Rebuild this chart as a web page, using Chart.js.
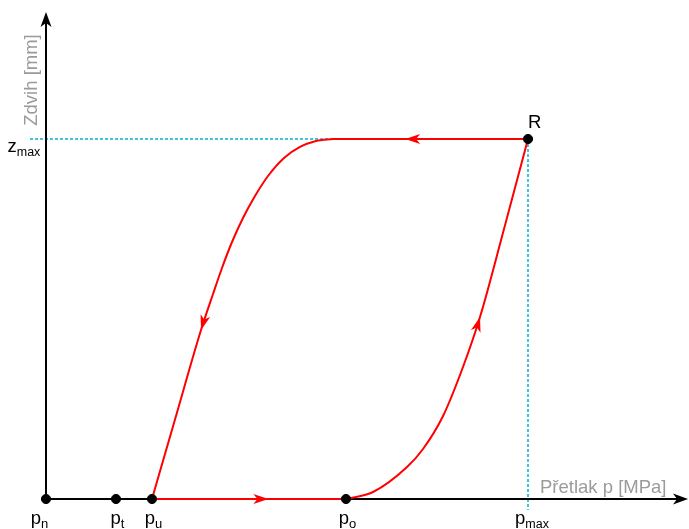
<!DOCTYPE html>
<html>
<head>
<meta charset="utf-8">
<script src="https://cdn.jsdelivr.net/npm/chart.js@4"></script>
<style>
  html, body { margin: 0; padding: 0; background: #fff; }
  #wrap { width: 689px; height: 529px; }
</style>
</head>
<body>
<div id="wrap"><canvas id="c" width="689" height="529"></canvas></div>
<script>
// ---- data (schematic units: p_max = 10, z_max = 10) ----
const pointNames = ['n', 't', 'u', 'o'];          // subscripts of p on the pressure axis
const pointX     = [0, 1.452, 2.199, 6.224];      // p_n, p_t, p_u, p_o
const pMax = 10;
const zMax = 10;
const closeX = 5.954;                              // where the closing curve leaves z_max

// opening curve p_o -> R
const openX = [6.224, 6.784, 7.490, 7.822, 8.237, 8.651, 9.004, 9.502, 10];
const openY = [0, 0.194, 0.889, 1.389, 2.306, 3.667, 5.056, 7.5, 10];
// closing curve (from z_max plateau down to p_u)
const closeCurveX = [5.954, 5.602, 5.270, 4.938, 4.606, 4.336, 4.087, 3.859, 3.651, 3.465, 3.216, 2.697, 2.199];
const closeCurveY = [10, 9.944, 9.778, 9.472, 8.972, 8.417, 7.806, 7.139, 6.417, 5.694, 4.694, 2.306, 0];

// axis extents
const xAxisEnd = 13.32, yAxisEnd = 13.53;
const xView = [-0.9544, 13.340], yView = [-0.8333, 13.861];
const zLineStart = -0.332, pLineEnd = -0.306;

const toPts = (xs, ys) => xs.map((x, i) => ({x, y: ys[i]}));

const RED = '#ff0000', CYAN = '#3fc6dc', GRAY = '#9b9b9b';

const datasets = [
  { label: 'dots', data: [...pointX.map(x => ({x, y: 0})), {x: pMax, y: zMax}],
    showLine: false, pointRadius: 4.6, backgroundColor: '#000', borderColor: '#000', order: 0 },
  { label: 'open', data: toPts(openX, openY), showLine: true, cubicInterpolationMode: 'monotone',
    borderColor: RED, borderWidth: 2, pointRadius: 0, order: 1, arrowIndex: 6 },
  { label: 'top', data: [{x: pMax, y: zMax}, {x: closeX, y: zMax}], showLine: true,
    borderColor: RED, borderWidth: 2, pointRadius: 0, order: 1, arrowFrac: 0.63 },
  { label: 'close', data: toPts(closeCurveX, closeCurveY), showLine: true, cubicInterpolationMode: 'monotone',
    borderColor: RED, borderWidth: 2, pointRadius: 0, order: 1, arrowIndex: 10 },
  { label: 'bottom', data: [{x: pointX[2], y: 0}, {x: pointX[3], y: 0}], showLine: true,
    borderColor: RED, borderWidth: 2, pointRadius: 0, order: 1, arrowFrac: 0.6 },
  { label: 'xaxis', data: [{x: 0, y: 0}, {x: xAxisEnd - 0.2, y: 0}], showLine: true,
    borderColor: '#000', borderWidth: 2, pointRadius: 0, order: 2, axisArrow: true },
  { label: 'yaxis', data: [{x: 0, y: 0}, {x: 0, y: yAxisEnd - 0.3}], showLine: true,
    borderColor: '#000', borderWidth: 2, pointRadius: 0, order: 2, axisArrow: true },
  { label: 'zmaxline', data: [{x: zLineStart, y: zMax}, {x: pMax, y: zMax}], showLine: true,
    borderColor: CYAN, borderWidth: 2, borderDash: [3, 2], pointRadius: 0, order: 3 },
  { label: 'pmaxline', data: [{x: pMax, y: zMax}, {x: pMax, y: pLineEnd}], showLine: true,
    borderColor: CYAN, borderWidth: 2, borderDash: [3, 2], pointRadius: 0, order: 3 }
];

function arrowHead(ctx, x, y, ang, len, half, notch, color) {
  ctx.save();
  ctx.translate(x, y);
  ctx.rotate(ang);
  ctx.beginPath();
  ctx.moveTo(0, 0);
  ctx.lineTo(-len, -half);
  ctx.lineTo(-len + notch, 0);
  ctx.lineTo(-len, half);
  ctx.closePath();
  ctx.fillStyle = color;
  ctx.fill();
  ctx.restore();
}

const FONT = '"Liberation Sans", Arial, sans-serif';

const decor = {
  id: 'decor',
  afterDatasetsDraw(chart) {
    const ctx = chart.ctx;
    const xs = chart.scales.x, ys = chart.scales.y;
    chart.data.datasets.forEach((ds, di) => {
      const pts = chart.getDatasetMeta(di).data;
      if (ds.arrowIndex !== undefined) {
        const i = ds.arrowIndex, a = pts[i - 1], b = pts[i + 1], t = pts[i];
        arrowHead(ctx, t.x, t.y, Math.atan2(b.y - a.y, b.x - a.x), 15, 5, 4, RED);
      }
      if (ds.arrowFrac !== undefined) {
        const a = pts[0], b = pts[pts.length - 1], f = ds.arrowFrac;
        arrowHead(ctx, a.x + (b.x - a.x) * f, a.y + (b.y - a.y) * f,
          Math.atan2(b.y - a.y, b.x - a.x), 15, 5, 4, RED);
      }
      if (ds.axisArrow) {
        const a = pts[0], b = pts[pts.length - 1];
        const ang = Math.atan2(b.y - a.y, b.x - a.x);
        const tipX = ds.label === 'xaxis' ? xs.getPixelForValue(xAxisEnd) : b.x;
        const tipY = ds.label === 'yaxis' ? ys.getPixelForValue(yAxisEnd) : b.y;
        arrowHead(ctx, tipX, tipY, ang, 15, 5.5, 4, '#000');
      }
    });

    // labels with subscripts
    ctx.save();
    ctx.fillStyle = '#000';
    ctx.textBaseline = 'alphabetic';
    const sub = (main, s, left, base, size, subSize, subDrop) => {
      ctx.font = size + 'px ' + FONT;
      ctx.textAlign = 'left';
      ctx.fillText(main, left, base);
      const w = ctx.measureText(main).width;
      ctx.font = subSize + 'px ' + FONT;
      ctx.fillText(s, left + w, base + subDrop);
    };
    const subW = (main, s, size, subSize) => {
      ctx.font = size + 'px ' + FONT;
      const w = ctx.measureText(main).width;
      ctx.font = subSize + 'px ' + FONT;
      return w + ctx.measureText(s).width;
    };
    const baseY = ys.getPixelForValue(0) + 25;
    pointNames.forEach((n, i) => {
      const px = xs.getPixelForValue(pointX[i]);
      const w = subW('p', n, 18.5, 13);
      const cx = i === 0 ? px - 6.5 : px + 1.5;
      sub('p', n, cx - w / 2, baseY, 18.5, 13, 4);
    });
    {
      const px = xs.getPixelForValue(pMax);
      const w = subW('p', 'max', 18.5, 12.5);
      sub('p', 'max', px + 4 - w / 2, baseY, 18.5, 12.5, 4);
    }
    {
      const py = ys.getPixelForValue(zMax);
      sub('z', 'max', 7.5, py + 13, 18.5, 12.5, 4);
    }
    // R label
    ctx.font = '18.5px ' + FONT;
    ctx.textAlign = 'left';
    ctx.fillText('R', xs.getPixelForValue(pMax), ys.getPixelForValue(zMax) - 11);

    // axis titles
    ctx.fillStyle = GRAY;
    ctx.font = '18.5px ' + FONT;
    ctx.textAlign = 'left';
    ctx.fillText('Přetlak p [MPa]', 540, ys.getPixelForValue(0) - 6);
    ctx.save();
    ctx.translate(36.5, 80);
    ctx.rotate(-Math.PI / 2);
    ctx.textAlign = 'center';
    ctx.fillText('Zdvih [mm]', 0, 0);
    ctx.restore();
    ctx.restore();
  }
};

new Chart(document.getElementById('c'), {
  type: 'scatter',
  data: { datasets },
  options: {
    responsive: false,
    animation: false,
    devicePixelRatio: 1,
    layout: { padding: 0, autoPadding: false },
    plugins: { legend: { display: false }, tooltip: { enabled: false } },
    scales: {
      x: { type: 'linear', min: xView[0], max: xView[1], display: false },
      y: { type: 'linear', min: yView[0], max: yView[1], display: false }
    },
    elements: { line: { capBezierPoints: false } }
  },
  plugins: [decor]
});
</script>
</body>
</html>
